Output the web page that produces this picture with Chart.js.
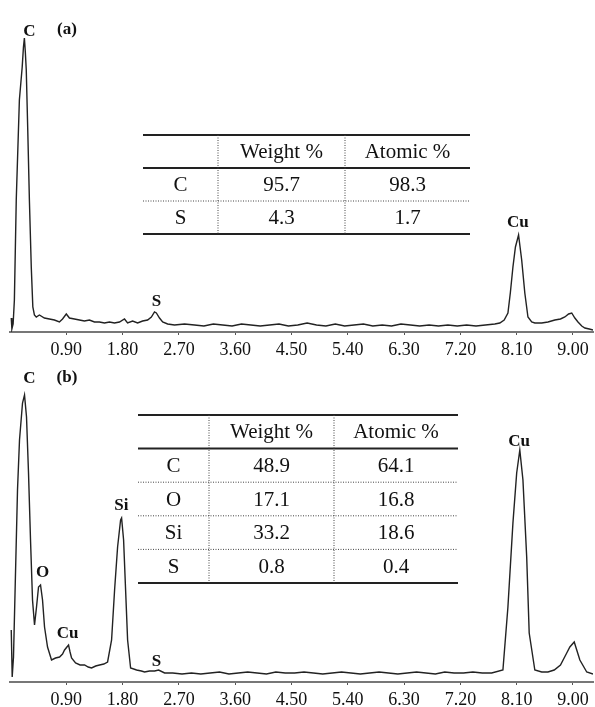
<!DOCTYPE html>
<html>
<head>
<meta charset="utf-8">
<script src="https://cdn.jsdelivr.net/npm/chart.js@4.4.0/dist/chart.umd.min.js"></script>
<style>
body { margin: 0; background: #fff; }
#wrap { position: relative; width: 595px; height: 707px; }
canvas { position: absolute; left: 0; top: 0; }
</style>
</head>
<body>
<div id="wrap">
	<canvas id="specA" width="595" height="707"></canvas>
	<canvas id="specB" width="595" height="707"></canvas>
</div>
<script>
// energy axis ticks (keV)
var tickValues = [0.9, 1.8, 2.7, 3.6, 4.5, 5.4, 6.3, 7.2, 8.1, 9.0];

// spectrum (a) - energy (keV) and counts
var energyA = [
	0.02, 0.03, 0.05, 0.07, 0.10, 0.15, 0.195, 0.215, 0.23, 0.245,
	0.26, 0.285, 0.31, 0.34, 0.365, 0.39, 0.42, 0.47, 0.55, 0.63,
	0.71, 0.79, 0.84, 0.90, 0.95, 1.03, 1.11, 1.19, 1.27, 1.35,
	1.43, 1.51, 1.59, 1.67, 1.75, 1.83, 1.88, 1.96, 2.04, 2.12,
	2.20, 2.26, 2.31, 2.34, 2.39, 2.44, 2.52, 2.63, 2.79, 2.95,
	3.10, 3.25, 3.40, 3.55, 3.70, 3.85, 4.00, 4.15, 4.30, 4.45,
	4.60, 4.75, 4.90, 5.05, 5.20, 5.35, 5.50, 5.65, 5.80, 5.95,
	6.10, 6.25, 6.40, 6.55, 6.70, 6.85, 7.00, 7.15, 7.30, 7.45,
	7.60, 7.75, 7.83, 7.90, 7.96, 8.00, 8.04, 8.08, 8.13, 8.18,
	8.23, 8.28, 8.34, 8.39, 8.50, 8.60, 8.71, 8.80, 8.87, 8.93,
	8.98, 9.03, 9.08, 9.14, 9.19, 9.26, 9.32
];
var countsA = [
	140, 30, 80, 320, 1320, 2320, 2650, 2850, 2940, 2800,
	2620, 1990, 1320, 650, 250, 170, 150, 170, 140, 130,
	120, 100, 130, 180, 140, 130, 120, 110, 120, 100,
	100, 90, 100, 90, 100, 130, 90, 110, 90, 110,
	120, 150, 200, 190, 140, 100, 80, 70, 80, 70,
	60, 80, 70, 60, 80, 70, 60, 70, 80, 60,
	70, 90, 70, 60, 80, 60, 70, 80, 60, 70,
	60, 80, 70, 60, 70, 60, 70, 60, 70, 60,
	70, 80, 90, 120, 190, 400, 650, 850, 970, 720,
	390, 150, 100, 90, 90, 100, 120, 130, 150, 180,
	190, 140, 100, 60, 40, 30, 20
];

// spectrum (b)
var energyB = [
	0.02, 0.035, 0.056, 0.088, 0.12, 0.152, 0.20, 0.232, 0.264, 0.296,
	0.328, 0.36, 0.392, 0.424, 0.456, 0.488, 0.52, 0.552, 0.60, 0.664,
	0.728, 0.792, 0.84, 0.872, 0.91, 0.936, 0.96, 0.984, 1.048, 1.12,
	1.192, 1.25, 1.304, 1.37, 1.432, 1.50, 1.56, 1.624, 1.672, 1.72,
	1.768, 1.784, 1.816, 1.848, 1.88, 1.928, 2.024, 2.10, 2.152, 2.23,
	2.312, 2.376, 2.472, 2.60, 2.75, 2.90, 3.05, 3.20, 3.35, 3.50,
	3.65, 3.80, 3.95, 4.10, 4.25, 4.40, 4.55, 4.70, 4.85, 5.00,
	5.15, 5.30, 5.45, 5.60, 5.75, 5.90, 6.05, 6.20, 6.35, 6.50,
	6.65, 6.80, 6.95, 7.10, 7.25, 7.40, 7.55, 7.70, 7.88, 7.96,
	8.04, 8.10, 8.15, 8.20, 8.26, 8.30, 8.39, 8.50, 8.60, 8.70,
	8.80, 8.90, 8.95, 9.02, 9.11, 9.22, 9.32
];
var countsB = [
	520, 50, 250, 1090, 1920, 2420, 2790, 2870, 2650, 2090,
	1420, 820, 570, 750, 950, 970, 820, 550, 350, 220,
	240, 250, 280, 320, 350, 370, 300, 240, 190, 170,
	170, 150, 140, 160, 170, 180, 200, 420, 920, 1350,
	1620, 1640, 1420, 920, 420, 140, 120, 110, 100, 110,
	110, 120, 90, 90, 80, 90, 80, 90, 100, 80,
	90, 100, 90, 80, 100, 90, 90, 100, 90, 80,
	90, 100, 90, 80, 90, 100, 90, 80, 90, 100,
	90, 80, 100, 90, 90, 100, 90, 90, 120, 750,
	1590, 2090, 2320, 2020, 1250, 490, 120, 100, 100, 120,
	170, 290, 350, 400, 220, 100, 80
];

// peak labels: element, energy, level where the label sits
var peakNamesA = ['C', 'S', 'Cu'];
var peakEnergyA = [0.31, 2.34, 8.12];
var peakLevelA = [3000, 300, 1090];

var peakNamesB = ['C', 'O', 'Cu', 'Si', 'S', 'Cu'];
var peakEnergyB = [0.31, 0.52, 0.92, 1.78, 2.34, 8.14];
var peakLevelB = [3030, 1090, 480, 1760, 200, 2400];

// inset tables
var tableHead = ['', 'Weight %', 'Atomic %'];
var elementsA = ['C', 'S'];
var weightA = ['95.7', '4.3'];
var atomicA = ['98.3', '1.7'];
var elementsB = ['C', 'O', 'Si', 'S'];
var weightB = ['48.9', '17.1', '33.2', '0.8'];
var atomicB = ['64.1', '16.8', '18.6', '0.4'];

var serif = '"Liberation Serif", "Times New Roman", serif';

// draws the peak labels, panel tag and the inset table on top of the spectrum
var decorPlugin = {
	id: 'decor',
	afterDraw: function(chart, args, opts) {
		var ctx = chart.ctx;
		var xs = chart.scales.x, ys = chart.scales.y;
		ctx.save();
		ctx.fillStyle = '#111';
		ctx.textAlign = 'center';
		ctx.textBaseline = 'middle';
		ctx.font = 'bold 17px ' + serif;
		for (var i = 0; i < opts.names.length; i++) {
			ctx.fillText(opts.names[i], xs.getPixelForValue(opts.energy[i]), ys.getPixelForValue(opts.level[i]));
		}
		ctx.fillText(opts.tag, opts.tagX, opts.tagY);

		// table
		var t = opts.table;
		var nRows = t.rows.length + 1;
		var bottom = t.top + nRows * t.rowH;
		ctx.strokeStyle = '#222';
		ctx.lineWidth = 2;
		[t.top, t.top + t.rowH, bottom].forEach(function(y) {
			ctx.beginPath(); ctx.moveTo(t.left, y); ctx.lineTo(t.right, y); ctx.stroke();
		});
		ctx.setLineDash([1, 1.5]);
		ctx.lineWidth = 1;
		ctx.strokeStyle = '#444';
		for (var r = 2; r < nRows; r++) {
			var yy = t.top + r * t.rowH;
			ctx.beginPath(); ctx.moveTo(t.left, yy); ctx.lineTo(t.right, yy); ctx.stroke();
		}
		t.cols.forEach(function(x) {
			ctx.beginPath(); ctx.moveTo(x, t.top); ctx.lineTo(x, bottom); ctx.stroke();
		});
		ctx.setLineDash([]);

		var edges = [t.left].concat(t.cols).concat([t.right]);
		ctx.font = '21px ' + serif;
		var allRows = [tableHead].concat(t.rows);
		allRows.forEach(function(row, ri) {
			var cy = t.top + ri * t.rowH + t.rowH / 2 + 1;
			row.forEach(function(txt, ci) {
				ctx.fillText(txt, (edges[ci] + edges[ci + 1]) / 2, cy);
			});
		});
		ctx.restore();
	}
};

function makeSpectrum(id, energy, counts, yMax, padTop, padBottom, decor) {
	var pts = energy.map(function(e, i) { return { x: e, y: counts[i] }; });
	return new Chart(document.getElementById(id), {
		type: 'line',
		data: {
			datasets: [{
				data: pts,
				borderColor: '#222',
				borderWidth: 1.4,
				pointRadius: 0,
				tension: 0,
				fill: false
			}]
		},
		options: {
			responsive: false,
			animation: false,
			events: [],
			layout: { padding: { left: 10, right: 2, top: padTop, bottom: padBottom } },
			plugins: {
				legend: { display: false },
				tooltip: { enabled: false },
				decor: decor
			},
			scales: {
				x: {
					type: 'linear',
					min: 0,
					max: 9.32,
					afterBuildTicks: function(scale) {
						scale.ticks = tickValues.map(function(v) { return { value: v }; });
					},
					afterFit: function(scale) { scale.height = 25; },
					grid: { display: true, drawOnChartArea: false, drawTicks: true, tickLength: 3, color: '#555' },
					border: { display: true, color: '#777', width: 2 },
					ticks: {
						padding: 4,
						maxRotation: 0,
						autoSkip: false,
						color: '#111',
						font: { family: serif, size: 18 },
						callback: function(v) { return Number(v).toFixed(2); }
					}
				},
				y: {
					display: false,
					min: 0,
					max: yMax
				}
			}
		},
		plugins: [decorPlugin]
	});
}

makeSpectrum('specA', energyA, countsA, 3220, 10, 350, {
	names: peakNamesA, energy: peakEnergyA, level: peakLevelA,
	tag: '(a)', tagX: 67, tagY: 30,
	table: {
		left: 143, right: 470, cols: [218, 345], top: 135, rowH: 33,
		rows: elementsA.map(function(el, i) { return [el, weightA[i], atomicA[i]]; })
	}
});

makeSpectrum('specB', energyB, countsB, 3170, 365, 0, {
	names: peakNamesB, energy: peakEnergyB, level: peakLevelB,
	tag: '(b)', tagX: 67, tagY: 378,
	table: {
		left: 138, right: 458, cols: [209, 334], top: 415, rowH: 33.6,
		rows: elementsB.map(function(el, i) { return [el, weightB[i], atomicB[i]]; })
	}
});
</script>
</body>
</html>
